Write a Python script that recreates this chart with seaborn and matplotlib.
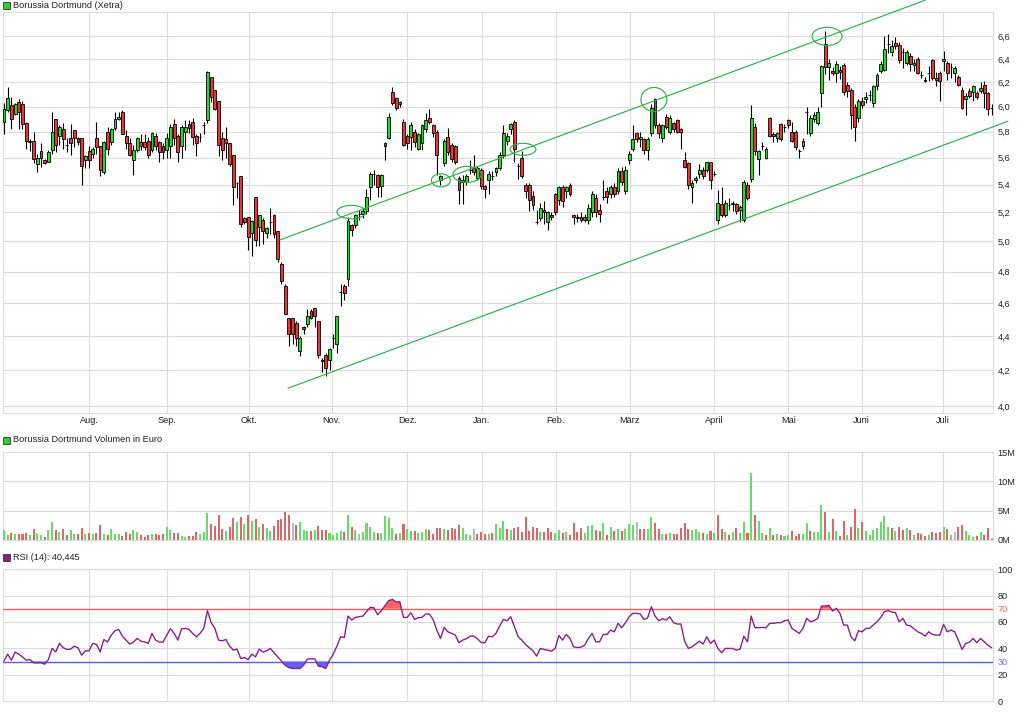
import numpy as np
import seaborn as sns
import matplotlib
matplotlib.use("Agg")
import matplotlib.pyplot as plt
from matplotlib.patches import Rectangle, Ellipse
from matplotlib.ticker import FixedLocator, NullLocator

# ---------------- data ----------------
opens = [
    5.88, 5.97, 6.01, 5.94, 6.04, 6.02, 5.87, 5.73, 5.73, 5.55,
    5.65, 5.58, 5.57, 5.66, 5.90, 5.77, 5.82, 5.70, 5.75, 5.81,
    5.75, 5.75, 5.58, 5.65, 5.63, 5.75, 5.69, 5.49, 5.80, 5.72,
    5.83, 5.90, 5.96, 5.77, 5.71, 5.58, 5.66, 5.72, 5.72, 5.73,
    5.66, 5.77, 5.72, 5.69, 5.66,
    5.69, 5.86, 5.77, 5.69, 5.80, 5.86, 5.88, 5.77, 5.76, 5.85,
    5.89, 6.25, 6.14, 6.05, 5.75, 5.74, 5.71, 5.62, 5.41, 5.46,
    5.16, 5.17, 5.06, 5.31, 5.10, 5.15, 5.06, 5.13, 5.18, 5.07,
    4.85, 4.71, 4.51, 4.51, 4.48, 4.31, 4.45, 4.47, 4.55, 4.57,
    4.49, 4.26, 4.29, 4.26, 4.39,
    4.35, 4.67, 4.71, 4.75, 5.11, 5.11, 5.19, 5.19, 5.21, 5.38,
    5.48, 5.47, 5.39, 5.71, 5.75, 6.12, 6.07, 6.04, 5.88, 5.77,
    5.76, 5.80, 5.67, 5.71, 5.82, 5.91, 5.85, 5.80, 5.43, 5.56,
    5.76, 5.70, 5.69, 5.45, 5.42, 5.42, 5.51, 5.52, 5.45, 5.51,
    5.39, 5.43, 5.46, 5.49, 5.52,
    5.62, 5.73, 5.82, 5.88, 5.54, 5.60, 5.40, 5.40, 5.32, 5.13,
    5.16, 5.22, 5.13, 5.18, 5.33, 5.29, 5.38, 5.35, 5.40, 5.18,
    5.17, 5.17, 5.17, 5.15, 5.20, 5.30, 5.22, 5.31, 5.35, 5.33,
    5.38, 5.35, 5.50, 5.35, 5.58, 5.67, 5.79, 5.74, 5.74, 5.66,
    5.79, 6.06, 5.85, 5.75,
    5.92, 5.80, 5.87, 5.89, 5.82, 5.58, 5.56, 5.38, 5.43, 5.48,
    5.51, 5.51, 5.57, 5.48, 5.15, 5.26, 5.18, 5.25, 5.27, 5.26,
    5.22, 5.15, 5.40, 5.44, 5.84, 5.59, 5.69, 5.60, 5.91, 5.78,
    5.75, 5.86, 5.84, 5.89, 5.80, 5.80, 5.65, 5.69, 5.96, 5.79,
    5.90, 5.87, 6.11, 6.53, 6.33,
    6.30, 6.28, 6.31, 6.35, 6.18, 6.14, 6.00, 5.91, 6.05, 6.06,
    6.10, 6.03, 6.17, 6.30, 6.31, 6.53, 6.46, 6.54, 6.52, 6.46,
    6.37, 6.43, 6.35, 6.40, 6.26, 6.22, 6.28, 6.39, 6.24, 6.28,
    6.38, 6.37, 6.33, 6.28, 6.25, 6.14, 6.06, 6.13, 6.12, 6.11,
    6.13, 6.18, 6.11, 5.99,
]

closes = [
    5.98, 6.07, 5.90, 6.02, 5.96, 5.86, 5.73, 5.72, 5.59, 5.60,
    5.60, 5.56, 5.64, 5.80, 5.70, 5.84, 5.74, 5.70, 5.71, 5.75,
    5.72, 5.54, 5.61, 5.58, 5.67, 5.68, 5.51, 5.72, 5.67, 5.82,
    5.90, 5.92, 5.78, 5.71, 5.62, 5.66, 5.75, 5.69, 5.68, 5.62,
    5.79, 5.69, 5.64, 5.64, 5.75,
    5.84, 5.75, 5.64, 5.84, 5.84, 5.83, 5.76, 5.71, 5.76, 5.85,
    6.29, 6.08, 5.98, 5.70, 5.66, 5.71, 5.55, 5.38, 5.41, 5.12,
    5.13, 5.03, 5.14, 5.01, 5.18, 5.07, 5.09, 5.13, 5.05, 4.88,
    4.74, 4.53, 4.41, 4.41, 4.39, 4.39, 4.44, 4.52, 4.51, 4.52,
    4.29, 4.25, 4.21, 4.32, 4.39,
    4.52, 4.67, 4.66, 5.14, 5.08, 5.18, 5.19, 5.21, 5.31, 5.48,
    5.48, 5.38, 5.47, 5.69, 5.92, 6.03, 5.99, 6.02, 5.70, 5.71,
    5.85, 5.72, 5.78, 5.85, 5.89, 5.88, 5.79, 5.62, 5.46, 5.73,
    5.64, 5.59, 5.57, 5.36, 5.43, 5.46, 5.51, 5.49, 5.52, 5.39,
    5.37, 5.48, 5.46, 5.52, 5.62,
    5.79, 5.77, 5.86, 5.67, 5.54, 5.46, 5.35, 5.29, 5.25, 5.13,
    5.23, 5.20, 5.20, 5.17, 5.20, 5.38, 5.28, 5.38, 5.33, 5.17,
    5.16, 5.15, 5.15, 5.23, 5.33, 5.20, 5.19, 5.31, 5.31, 5.38,
    5.33, 5.50, 5.42, 5.51, 5.63, 5.74, 5.74, 5.76, 5.66, 5.74,
    5.99, 5.85, 5.79, 5.85,
    5.84, 5.91, 5.82, 5.80, 5.80, 5.53, 5.40, 5.41, 5.45, 5.51,
    5.46, 5.57, 5.43, 5.48, 5.27, 5.18, 5.27, 5.25, 5.26, 5.21,
    5.24, 5.42, 5.30, 5.91, 5.65, 5.65, 5.69, 5.67, 5.77, 5.77,
    5.79, 5.74, 5.84, 5.85, 5.73, 5.68, 5.65, 5.73, 5.96, 5.91,
    5.93, 5.96, 6.34, 6.33, 6.37,
    6.28, 6.36, 6.29, 6.12, 6.13, 5.93, 5.84, 6.05, 6.01, 6.08,
    6.10, 6.17, 6.26, 6.36, 6.49, 6.53, 6.51, 6.51, 6.39, 6.46,
    6.46, 6.36, 6.37, 6.28, 6.26, 6.21, 6.28, 6.24, 6.22, 6.21,
    6.40, 6.28, 6.33, 6.32, 6.18, 5.99, 6.09, 6.09, 6.17, 6.08,
    6.15, 6.11, 5.98, 5.99,
]

highs = [
    6.03, 6.16, 6.08, 6.03, 6.06, 6.05, 5.88, 5.74, 5.80, 5.63,
    5.71, 5.59, 5.66, 5.96, 5.90, 5.85, 5.87, 5.75, 5.86, 5.81,
    5.76, 5.75, 5.62, 5.69, 5.68, 5.88, 5.69, 5.73, 5.84, 5.83,
    5.96, 5.96, 5.97, 5.81, 5.75, 5.70, 5.76, 5.78, 5.78, 5.76,
    5.80, 5.79, 5.73, 5.71, 5.79,
    5.86, 5.90, 5.78, 5.85, 5.89, 5.89, 5.91, 5.78, 5.79, 5.88,
    6.30, 6.25, 6.14, 6.05, 5.80, 5.84, 5.71, 5.62, 5.42, 5.46,
    5.17, 5.17, 5.15, 5.31, 5.18, 5.16, 5.10, 5.23, 5.19, 5.07,
    4.86, 4.72, 4.51, 4.51, 4.49, 4.40, 4.46, 4.56, 4.56, 4.57,
    4.49, 4.27, 4.30, 4.33, 4.41,
    4.52, 4.72, 4.72, 5.17, 5.12, 5.19, 5.22, 5.23, 5.37, 5.49,
    5.51, 5.48, 5.48, 5.72, 5.95, 6.16, 6.08, 6.05, 5.90, 5.78,
    5.88, 5.82, 5.79, 5.86, 5.95, 5.98, 5.86, 5.81, 5.47, 5.74,
    5.83, 5.71, 5.70, 5.46, 5.47, 5.48, 5.58, 5.62, 5.54, 5.52,
    5.40, 5.50, 5.50, 5.53, 5.64,
    5.85, 5.79, 5.87, 5.89, 5.56, 5.65, 5.41, 5.41, 5.35, 5.22,
    5.27, 5.28, 5.21, 5.20, 5.34, 5.39, 5.40, 5.39, 5.41, 5.19,
    5.19, 5.20, 5.19, 5.26, 5.35, 5.33, 5.26, 5.43, 5.38, 5.40,
    5.41, 5.52, 5.53, 5.54, 5.65, 5.85, 5.80, 5.80, 5.75, 5.76,
    6.02, 6.07, 5.87, 5.86,
    5.94, 5.93, 5.88, 5.90, 5.83, 5.64, 5.57, 5.43, 5.46, 5.55,
    5.53, 5.57, 5.57, 5.50, 5.36, 5.38, 5.29, 5.30, 5.28, 5.27,
    5.25, 5.43, 5.42, 6.01, 5.87, 5.66, 5.72, 5.68, 5.92, 5.80,
    5.80, 5.87, 5.86, 5.90, 5.88, 5.81, 5.67, 5.75, 6.00, 5.93,
    5.96, 6.00, 6.35, 6.65, 6.40,
    6.33, 6.38, 6.34, 6.37, 6.20, 6.15, 6.02, 6.06, 6.08, 6.12,
    6.14, 6.18, 6.28, 6.38, 6.60, 6.62, 6.57, 6.59, 6.55, 6.50,
    6.48, 6.45, 6.40, 6.42, 6.30, 6.25, 6.34, 6.40, 6.29, 6.30,
    6.47, 6.38, 6.37, 6.34, 6.26, 6.16, 6.11, 6.15, 6.18, 6.13,
    6.20, 6.21, 6.12, 6.02,
]

lows = [
    5.78, 5.96, 5.82, 5.93, 5.82, 5.82, 5.67, 5.65, 5.56, 5.49,
    5.53, 5.55, 5.57, 5.63, 5.64, 5.70, 5.67, 5.64, 5.62, 5.68,
    5.70, 5.40, 5.52, 5.52, 5.60, 5.63, 5.46, 5.48, 5.62, 5.70,
    5.81, 5.89, 5.78, 5.67, 5.61, 5.47, 5.64, 5.66, 5.66, 5.60,
    5.64, 5.66, 5.57, 5.59, 5.60,
    5.60, 5.70, 5.57, 5.60, 5.66, 5.79, 5.70, 5.61, 5.72, 5.78,
    5.87, 6.04, 5.97, 5.61, 5.58, 5.60, 5.54, 5.25, 5.30, 5.10,
    5.12, 4.94, 4.90, 4.97, 4.97, 4.98, 5.02, 5.05, 5.02, 4.86,
    4.72, 4.53, 4.34, 4.35, 4.34, 4.28, 4.41, 4.45, 4.50, 4.45,
    4.27, 4.19, 4.17, 4.20, 4.33,
    4.30, 4.58, 4.62, 4.71, 5.04, 5.09, 5.15, 5.16, 5.19, 5.29,
    5.40, 5.31, 5.31, 5.58, 5.74, 6.01, 5.97, 6.00, 5.69, 5.67,
    5.66, 5.68, 5.66, 5.66, 5.80, 5.86, 5.76, 5.47, 5.40, 5.54,
    5.62, 5.57, 5.55, 5.26, 5.26, 5.40, 5.48, 5.47, 5.43, 5.37,
    5.30, 5.33, 5.43, 5.46, 5.51,
    5.60, 5.70, 5.78, 5.57, 5.44, 5.45, 5.30, 5.21, 5.22, 5.12,
    5.14, 5.12, 5.08, 5.15, 5.18, 5.25, 5.24, 5.30, 5.32, 5.12,
    5.13, 5.13, 5.13, 5.12, 5.17, 5.17, 5.13, 5.29, 5.27, 5.30,
    5.31, 5.33, 5.40, 5.33, 5.55, 5.65, 5.72, 5.68, 5.63, 5.58,
    5.77, 5.83, 5.75, 5.72,
    5.82, 5.78, 5.80, 5.79, 5.67, 5.52, 5.37, 5.27, 5.41, 5.45,
    5.44, 5.49, 5.37, 5.46, 5.12, 5.17, 5.17, 5.22, 5.21, 5.19,
    5.13, 5.13, 5.29, 5.42, 5.62, 5.47, 5.66, 5.59, 5.76, 5.72,
    5.72, 5.73, 5.80, 5.83, 5.72, 5.66, 5.60, 5.67, 5.78, 5.77,
    5.88, 5.85, 6.00, 6.27, 6.22,
    6.26, 6.20, 6.23, 6.10, 6.08, 5.82, 5.73, 5.88, 5.99, 6.03,
    6.05, 6.00, 6.14, 6.28, 6.30, 6.45, 6.43, 6.49, 6.37, 6.32,
    6.35, 6.30, 6.30, 6.27, 6.24, 6.20, 6.21, 6.22, 6.17, 6.05,
    6.30, 6.22, 6.24, 6.20, 6.17, 5.98, 5.93, 6.07, 6.05, 6.06,
    6.11, 5.99, 5.93, 5.93,
]

# volume in million euro
volumes = [
    1.7, 0.85, 1.2, 1.0, 1.0, 1.0, 1.2, 0.85, 1.9, 1.2,
    0.85, 0.5, 1.7, 3.1, 1.7, 1.4, 1.9, 0.85, 1.7, 1.0,
    1.0, 2.0, 1.0, 1.2, 1.0, 1.2, 2.6, 1.0, 0.85, 1.9,
    1.0, 1.0, 0.7, 1.4, 1.0, 1.7, 1.4, 0.85, 0.5, 0.85,
    1.0, 1.0, 0.85, 1.0, 2.2, 1.7, 1.2, 1.2, 0.7, 0.5,
    0.7, 0.7, 1.4, 1.0, 1.4, 4.6, 2.7, 2.4, 4.3, 1.9,
    1.5, 2.2, 3.75, 3.1, 3.9, 2.7, 4.3, 3.2, 3.6, 2.2,
    2.7, 2.0, 1.5, 2.4, 3.4, 3.6, 4.8, 4.3, 2.9, 2.6,
    3.1, 1.7, 1.5, 1.5, 1.7, 2.4, 1.7, 1.7, 1.2, 0.85,
    1.2, 1.5, 1.4, 4.3, 2.2, 1.7, 1.0, 1.4, 2.9, 2.2,
    1.4, 1.2, 1.2, 4.1, 3.75, 2.0, 1.0, 1.2, 2.7, 1.9,
    1.5, 1.5, 1.2, 1.4, 1.9, 1.7, 1.0, 2.0, 2.0, 1.9,
    1.7, 2.0, 1.9, 2.6, 2.0, 1.0, 0.85, 1.9, 1.0, 1.4,
    1.0, 1.0, 1.2, 2.7, 2.0,
    3.2, 1.9, 1.7, 2.0, 2.2,
    1.4, 3.9, 1.5, 2.2, 2.0, 1.4, 1.4, 2.0, 1.4, 1.2,
    1.7, 1.2, 1.4, 0.85, 2.9, 1.4, 2.0, 1.2, 2.4, 2.6,
    1.7, 1.5, 2.9, 0.85, 2.2, 1.5, 1.9, 1.5, 1.9, 2.7,
    2.6, 3.1, 1.9, 1.9, 1.9, 3.9, 2.9, 1.9, 1.0, 1.0,
    1.2, 1.0, 1.0, 2.0, 2.9, 1.9, 1.7, 1.9, 1.4, 1.2,
    1.0, 1.5, 1.2, 4.3, 1.9, 1.4, 0.85, 1.4, 2.0, 1.2,
    3.1, 1.2, 11.4, 4.3, 3.2, 1.2, 0.85, 2.0, 0.85, 1.0,
    0.85, 0.7, 0.85, 1.5, 0.7, 1.0, 1.0, 2.9, 1.5, 1.4,
    1.4, 6.0, 4.8, 1.4, 3.6, 1.5, 0.7, 3.2, 0.85, 2.2,
    5.3, 2.0, 3.1, 1.5, 0.85, 1.7, 2.0, 3.1, 4.1, 2.2,
    2.0, 1.5, 2.2, 1.7, 2.0, 1.7, 0.85, 1.2, 1.0, 0.7,
    0.85, 1.4, 1.2, 1.4, 2.2, 1.9, 0.85, 1.4, 2.2, 2.6,
    1.5, 0.85, 0.5, 0.7, 1.4, 0.85, 2.0, 0.35,
]

# volume bar direction: g = up, r = down, n = unchanged
volume_dirs = (
    "ggrgrrrgrg" "grggrgrrgg" "rrgrgrrgrg" "ggrrrggrrr" "grrrggrrgg"
    "rrrgggrrrr" "grrgrgrgrg" "rggrrrrrnr" "gggrgrrrgg" "ggrgrgnggg"
    "grggggrgrg" "grgggrrrrg" "rrrrgggnrr" "rgrgg"
    "grgrr" "rrrrrgrrrg" "grgrrrrggg" "rrgrgrgrgg" "gnrrggrrgr"
    "grrrrrgggr" "grgrrgrgrg" "grgrggrgrg" "rggrrrggrg" "ggrgrgrrgr"
    "rgrggggggg" "rgrrgrgrrr" "grrrgrgnrr" "gggrgrrg"
)

rsi = [
    30.3, 35.6, 31.0, 37.1, 35.6, 33.5, 31.0, 31.5, 29.0, 29.0,
    29.0, 28.0, 31.5, 39.9, 37.3, 43.7, 40.4, 39.1, 39.4, 41.6,
    40.4, 34.8, 38.1, 38.1, 43.7, 42.9, 37.3, 46.7, 44.7, 50.0,
    53.3, 54.3, 49.2, 46.2, 43.2, 44.7, 47.5, 45.4, 44.9, 43.7,
    51.3, 46.2, 44.7, 44.7, 50.0, 54.8, 51.3, 46.2, 54.8, 55.1,
    54.3, 51.3, 48.7, 51.3, 55.1, 68.5, 59.4, 55.1, 46.2, 45.7,
    46.7, 41.6, 38.6, 39.4, 32.3, 33.0, 31.5, 35.6, 33.5, 39.4,
    37.1, 38.1, 39.9, 36.6, 33.5, 30.5, 27.2, 25.4, 24.7, 24.7,
    24.7, 27.2, 31.8, 32.0, 32.0, 26.5, 26.0, 24.7, 31.0, 35.6,
    41.6, 48.7, 48.2, 64.4, 61.4, 63.4, 63.9, 64.4, 67.7, 71.0,
    70.8, 65.4, 68.5, 72.3, 76.1, 77.1, 75.1, 75.3, 63.4, 63.4,
    67.0, 61.9, 63.2, 63.4, 66.0, 66.0, 61.9, 53.8, 47.5, 55.8,
    52.5, 51.3, 50.0, 44.2, 46.2, 47.2, 49.2, 49.2, 47.2, 44.4,
    44.2, 49.2, 48.7, 51.3, 56.8, 61.9, 60.9, 63.9, 56.3, 48.7,
    46.2, 42.9, 40.4, 38.1, 34.1, 39.9, 39.1, 38.6, 37.8, 39.9,
    49.7, 46.2, 50.5, 47.5, 41.1, 40.6, 40.9, 42.4, 47.5, 51.3,
    44.9, 44.9, 50.5, 50.5, 53.8, 52.5, 58.9, 55.6, 59.4, 63.9,
    66.5, 66.5, 66.0, 61.9, 63.0, 71.5, 64.4, 60.9, 62.4, 61.4,
    63.9, 59.4, 58.4, 58.4, 45.4, 39.9, 41.1, 43.2, 45.4, 43.2,
    48.7, 43.7, 46.2, 39.9, 36.6, 39.9, 39.9, 39.9, 38.6, 39.4,
    49.2, 44.9, 64.4, 55.6, 55.6, 55.8, 55.6, 58.9, 58.9, 59.4,
    59.4, 60.9, 61.4, 55.1, 53.3, 51.3, 55.1, 62.7, 60.1, 60.9,
    62.7, 72.0, 72.0, 72.5, 68.2, 70.3, 66.5, 57.6, 57.6, 48.7,
    45.7, 53.3, 52.5, 55.1, 55.1, 57.6, 60.1, 63.4, 67.7, 68.5,
    67.5, 67.0, 60.1, 62.7, 57.6, 57.1, 54.8, 52.5, 51.3, 49.2,
    52.5, 50.5, 50.0, 50.0, 58.1, 52.5, 53.8, 52.5, 46.2, 39.1,
    43.7, 44.7, 47.5, 44.2, 47.5, 44.9, 42.4, 40.445,
]

month_positions = [23.1, 44.0, 66.1, 88.6, 109.0, 129.1, 149.1, 169.2, 192.0, 212.0, 231.9, 253.9]
month_labels = ["Aug.", "Sep.", "Okt.", "Nov.", "Dez.", "Jan.", "Feb.", "März", "April", "Mai", "Juni", "Juli"]

price_ticks = [4.0, 4.2, 4.4, 4.6, 4.8, 5.0, 5.2, 5.4, 5.6, 5.8, 6.0, 6.2, 6.4, 6.6]
volume_ticks = [0, 5, 10, 15]
volume_tick_labels = ["0M", "5M", "10M", "15M"]
rsi_ticks = [0, 20, 30, 40, 60, 70, 80, 100]

# trend channel (day index, price)
channel_upper = ([74.6, 249.0], [5.010, 6.93])
channel_lower = ([76.8, 271.4], [4.099, 5.883])
# ellipse marks: (day index, price, width in days, height in price)
marks_x = [93.9, 118.1, 125.2, 140.3, 175.7, 222.5]
marks_y = [5.203, 5.431, 5.475, 5.664, 6.060, 6.600]
marks_w = [7.8, 5.1, 7.6, 7.0, 7.0, 8.1]
marks_h = [0.094, 0.096, 0.119, 0.092, 0.197, 0.162]

n = len(closes)
assert len(opens) == n and len(highs) == n and len(lows) == n
assert len(volumes) == n and len(volume_dirs) == n and len(rsi) == n, (len(volumes), len(volume_dirs), len(rsi))

# ---------------- style ----------------
sns.set_style("white")
plt.rcParams["font.family"] = ["Liberation Sans", "DejaVu Sans"]

GRID = "#dcdcdc"
TXT = "#222222"
FS = 6.6
UP = "#22dd22"
DOWN = "#ee3333"
VUP = "#66dd66"
VDOWN = "#dd6666"
VNEU = "#bbbbbb"
CH = "#2eb24a"
PURPLE = "#8b1f8b"

W, H = 1034, 712
fig = plt.figure(figsize=(W / 100, H / 100), dpi=100)


def ax_px(left, top, right, bottom):
    return fig.add_axes([left / W, 1 - bottom / H, (right - left) / W, (bottom - top) / H])


ax1 = ax_px(2.7, 12.3, 993.3, 413.3)
ax2 = ax_px(2.7, 452.3, 993.3, 539.7)
ax3 = ax_px(2.7, 569.1, 993.3, 701.1)

x = np.arange(n)
xlim = (-0.35, 267.45)

for ax in (ax1, ax2, ax3):
    ax.set_xlim(*xlim)
    for s in ax.spines.values():
        s.set_color(GRID)
        s.set_linewidth(0.8)
    ax.yaxis.tick_right()
    ax.tick_params(length=0, labelsize=FS, labelcolor=TXT, pad=3)
    ax.xaxis.set_major_locator(FixedLocator(month_positions))
    ax.xaxis.set_minor_locator(NullLocator())
    ax.grid(True, color=GRID, linewidth=0.8)
    ax.set_axisbelow(True)

# ---- price panel ----
ax1.set_yscale("log")
ax1.set_ylim(3.962, 6.818)
ax1.yaxis.set_major_locator(FixedLocator(price_ticks))
ax1.yaxis.set_minor_locator(NullLocator())
ax1.set_yticklabels([f"{v:.1f}".replace(".", ",") for v in price_ticks])
ax1.set_xticklabels(month_labels)
ax1.tick_params(axis="x", pad=2)

o = np.array(opens)
c = np.array(closes)
body_bottom = np.minimum(o, c)
body_height = np.abs(c - o)
body_colors = [UP if cc > oo else DOWN for oo, cc in zip(o, c)]
ax1.vlines(x, lows, highs, color="black", linewidth=0.8, zorder=3)
ax1.bar(x, body_height, bottom=body_bottom, width=0.78, color=body_colors,
        edgecolor="black", linewidth=0.6, zorder=4)

ax1.plot(*channel_upper, color=CH, linewidth=0.85, clip_on=False, zorder=5)
ax1.plot(*channel_lower, color=CH, linewidth=0.85, clip_on=False, zorder=5)
for mx, my, mw, mh in zip(marks_x, marks_y, marks_w, marks_h):
    ax1.add_patch(Ellipse((mx, my), mw, mh, fill=False, edgecolor=CH,
                          linewidth=0.85, zorder=6, clip_on=False))

# ---- volume panel ----
vcol = {"g": VUP, "r": VDOWN, "n": VNEU}
ax2.bar(x, volumes, width=0.55, color=[vcol[d] for d in volume_dirs], linewidth=0, zorder=3)
ax2.set_ylim(0, 15)
ax2.yaxis.set_major_locator(FixedLocator(volume_ticks))
ax2.set_yticklabels(volume_tick_labels)
ax2.set_xticklabels([])

# ---- RSI panel ----
r = np.array(rsi)
ax3.set_ylim(0, 100)
ax3.yaxis.set_major_locator(FixedLocator(rsi_ticks))
ax3.set_yticklabels([str(t) for t in rsi_ticks])
for lab, t in zip(ax3.get_yticklabels(), rsi_ticks):
    if t == 70:
        lab.set_color("#ff5a5a")
    elif t == 30:
        lab.set_color("#6a6aff")
ax3.set_xticklabels([])
ax3.fill_between(x, r, 70, where=r >= 70, interpolate=True, color="#ff6060", linewidth=0, zorder=3)
ax3.fill_between(x, r, 30, where=r <= 30, interpolate=True, color="#6060ff", linewidth=0, zorder=3)
ax3.axhline(70, color="#ff5a5a", linewidth=1.0, zorder=4)
ax3.axhline(30, color="#5a5aff", linewidth=1.0, zorder=4)
sns.lineplot(x=x, y=r, ax=ax3, color=PURPLE, linewidth=1.0, zorder=5)
ax3.set_xlabel("")
ax3.set_ylabel("")

# ---- headers ----
def header(ypx, text, color):
    fig.add_artist(Rectangle((3 / W, 1 - (ypx + 3.5) / H), 7 / W, 7 / H,
                             transform=fig.transFigure, facecolor=color,
                             edgecolor="#333333", linewidth=0.6))
    fig.text(13 / W, 1 - ypx / H, text, ha="left", va="center",
             fontsize=FS, color=TXT)


header(5.5, "Borussia Dortmund (Xetra)", "#33cc33")
header(440, "Borussia Dortmund Volumen in Euro", "#33cc33")
header(557, "RSI (14): 40,445", PURPLE)

fig.savefig("out.png", dpi=100)
